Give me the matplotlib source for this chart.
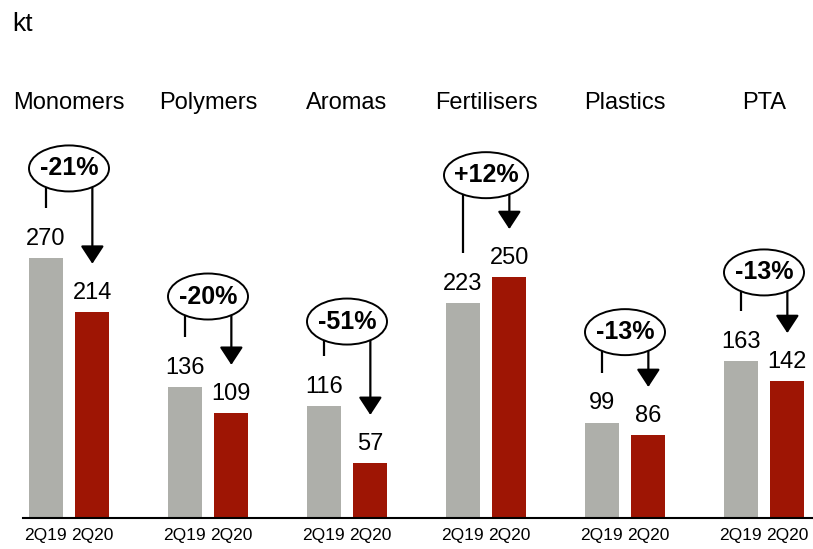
"""
Sales volumes by product line, 2Q19 vs 2Q20 (kt), with change ellipses.
"""

import matplotlib
matplotlib.use("Agg")
import matplotlib.pyplot as plt
from matplotlib.patches import Ellipse

CATEGORIES = ["Monomers", "Polymers", "Aromas", "Fertilisers", "Plastics", "PTA"]
VALUES_2Q19 = [270, 136, 116, 223, 99, 163]
VALUES_2Q20 = [214, 109, 57, 250, 86, 142]
PERIODS = ["2Q19", "2Q20"]
UNIT = "kt"

# layout: height (data units) of the change ellipse above each group
ELLIPSE_Y = [363, 230, 204, 356, 193, 255]

GREY = "#AEAFAA"
RED = "#9E1504"
FONT = ["Liberation Sans", "DejaVu Sans"]

PX_PER_UNIT = 0.963
PX_PER_X = 139
BASE_PX = 31
FIG_W, FIG_H = 813, 549


def main() -> None:
    fig = plt.figure(figsize=(FIG_W / 100, FIG_H / 100), dpi=100)
    ax = fig.add_axes([0, BASE_PX / FIG_H, 1, 1 - BASE_PX / FIG_H])
    ax.set_ylim(0, (FIG_H - BASE_PX) / PX_PER_UNIT)
    ax.set_xlim(-69 / PX_PER_X, (FIG_W - 69) / PX_PER_X)

    off, width = 0.168, 0.245
    xs = list(range(len(CATEGORIES)))
    x_a = [x - off for x in xs]
    x_b = [x + off for x in xs]
    ax.bar(x_a, VALUES_2Q19, width=width, color=GREY, zorder=2)
    ax.bar(x_b, VALUES_2Q20, width=width, color=RED, zorder=2)

    for xa, xb, va, vb, ey, name in zip(x_a, x_b, VALUES_2Q19, VALUES_2Q20,
                                        ELLIPSE_Y, CATEGORIES):
        for x, v in ((xa, va), (xb, vb)):
            ax.annotate(str(v), (x, v), xytext=(0, 6), textcoords="offset points",
                        ha="center", va="bottom", fontsize=17, family=FONT)
        # connector from ellipse to 2Q19 label, arrow to 2Q20 label
        ax.plot([xa, xa], [ey, va + 52], color="black", lw=1.6, zorder=3,
                solid_capstyle="butt")
        ax.annotate("", xy=(xb, vb + 50), xytext=(xb, ey),
                    arrowprops=dict(arrowstyle="-|>,head_length=0.55,head_width=0.36",
                                    mutation_scale=20, lw=1.6, color="black",
                                    shrinkA=0, shrinkB=0),
                    zorder=3)
        pct = round((vb / va - 1) * 100)
        label = f"{pct:+d}%"
        xc = (xa + xb) / 2
        ew = (84 if label.startswith("+") else 80) / PX_PER_X
        ax.add_patch(Ellipse((xc, ey), ew, 46 / PX_PER_UNIT, fc="white",
                             ec="black", lw=1.4, zorder=4))
        ax.text(xc, ey, label, ha="center", va="center", fontsize=18,
                fontweight="bold", family=FONT, zorder=5)
        ax.text(xc, (FIG_H - BASE_PX - 103) / PX_PER_UNIT, name,
                ha="center", va="center", fontsize=17, family=FONT)

    ax.text(-57 / PX_PER_X, (FIG_H - BASE_PX - 24) / PX_PER_UNIT, UNIT, ha="left",
            va="center", fontsize=19, family=FONT)

    ticks = [x for pair in zip(x_a, x_b) for x in pair]
    ax.set_xticks(ticks)
    ax.set_xticklabels(PERIODS * len(CATEGORIES), fontsize=12.5, family=FONT)
    ax.tick_params(axis="x", length=0, pad=7)
    ax.set_yticks([])
    for side in ("left", "right", "top"):
        ax.spines[side].set_visible(False)
    ax.spines["bottom"].set_linewidth(1.5)
    ax.spines["bottom"].set_bounds(-46 / PX_PER_X, (FIG_W - 69) / PX_PER_X)

    fig.savefig("out.png", dpi=100)
    plt.close(fig)


if __name__ == "__main__":
    main()
